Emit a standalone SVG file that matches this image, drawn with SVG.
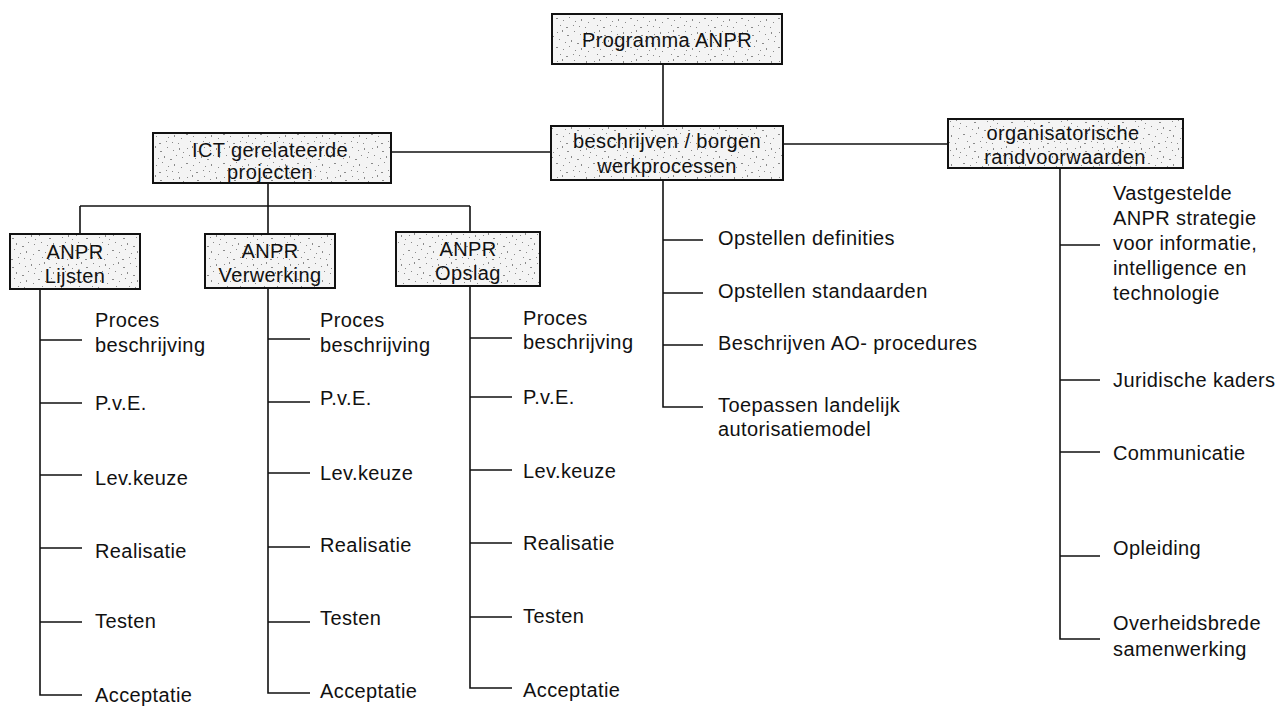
<svg xmlns="http://www.w3.org/2000/svg" width="1286" height="706" viewBox="0 0 1286 706">
<style>
  .box { fill: url(#speckle); stroke: #111; stroke-width: 2; }
  .t { font-family: "Liberation Sans", Arial, sans-serif; font-size: 20px; fill: #111; letter-spacing: 0.4px; }
  .c { text-anchor: middle; }
  .ln { stroke: #111; stroke-width: 1.6; fill: none; }
</style>
<defs>
  <pattern id="speckle" patternUnits="userSpaceOnUse" width="37" height="29">
    <rect width="37" height="29" fill="#f4f4f4"/>
    <g fill="#8a8a8a">
      <rect x="2" y="3" width="1" height="1"/><rect x="7" y="1" width="1" height="2"/>
      <rect x="12" y="6" width="2" height="1"/><rect x="19" y="2" width="1" height="1"/>
      <rect x="25" y="5" width="1" height="1"/><rect x="31" y="3" width="1" height="2"/>
      <rect x="4" y="10" width="1" height="1"/><rect x="10" y="13" width="1" height="1"/>
      <rect x="16" y="11" width="1" height="2"/><rect x="22" y="14" width="2" height="1"/>
      <rect x="28" y="10" width="1" height="1"/><rect x="34" y="12" width="1" height="1"/>
      <rect x="1" y="18" width="2" height="1"/><rect x="8" y="20" width="1" height="1"/>
      <rect x="14" y="17" width="1" height="1"/><rect x="20" y="21" width="1" height="1"/>
      <rect x="26" y="19" width="1" height="2"/><rect x="33" y="22" width="1" height="1"/>
      <rect x="5" y="25" width="1" height="1"/><rect x="11" y="27" width="2" height="1"/>
      <rect x="18" y="25" width="1" height="1"/><rect x="24" y="26" width="1" height="1"/>
      <rect x="30" y="27" width="1" height="1"/><rect x="35" y="7" width="1" height="1"/>
    </g>
  </pattern>
</defs>
<rect width="1286" height="706" fill="#ffffff"/>

<g id="connectors">
  <line class="ln" x1="663" y1="64" x2="663" y2="126"/>
  <line class="ln" x1="391" y1="152" x2="551" y2="152"/>
  <line class="ln" x1="783" y1="144" x2="948" y2="144"/>
  <line class="ln" x1="268" y1="183" x2="268" y2="234"/>
  <line class="ln" x1="80" y1="206" x2="470" y2="206"/>
  <line class="ln" x1="80" y1="206" x2="80" y2="234"/>
  <line class="ln" x1="470" y1="206" x2="470" y2="232"/>
  <!-- Lijsten -->
  <path class="ln" d="M40 289 V695 H82 M40 340 H82 M40 403 H82 M40 475 H82 M40 548 H82 M40 622 H82"/>
  <!-- Verwerking -->
  <path class="ln" d="M268 288 V693 H310 M268 339 H310 M268 402 H310 M268 473 H310 M268 547 H310 M268 622 H310"/>
  <!-- Opslag -->
  <path class="ln" d="M470 286 V688 H512 M470 338 H512 M470 397 H512 M470 470 H512 M470 543 H512 M470 617 H512"/>
  <!-- beschrijven -->
  <path class="ln" d="M663 180 V407 H703 M663 240 H703 M663 293 H703 M663 345 H703"/>
  <!-- organisatorische -->
  <path class="ln" d="M1060 168 V639 H1100 M1060 245 H1100 M1060 380 H1100 M1060 452 H1100 M1060 556 H1100"/>
</g>

<g id="programma">
  <rect class="box" x="552" y="14" width="230" height="50"/>
  <text class="t c" x="667" y="47">Programma ANPR</text>
</g>
<g id="beschrijven">
  <rect class="box" x="551" y="126" width="232" height="54"/>
  <text class="t c" x="667" y="148">beschrijven / borgen</text>
  <text class="t c" x="667" y="173">werkprocessen</text>
</g>
<g id="ict">
  <rect class="box" x="153" y="133" width="238" height="50"/>
  <text class="t c" x="270" y="157">ICT gerelateerde</text>
  <text class="t c" x="270" y="179">projecten</text>
</g>
<g id="organisatorisch">
  <rect class="box" x="948" y="119" width="235" height="49"/>
  <text class="t c" x="1063" y="140">organisatorische</text>
  <text class="t c" x="1065" y="164">randvoorwaarden</text>
</g>
<g id="lijsten">
  <rect class="box" x="10" y="234" width="130" height="55"/>
  <text class="t c" x="75" y="259">ANPR</text>
  <text class="t c" x="75" y="283">Lijsten</text>
</g>
<g id="verwerking">
  <rect class="box" x="205" y="234" width="130" height="54"/>
  <text class="t c" x="270" y="258">ANPR</text>
  <text class="t c" x="270" y="282">Verwerking</text>
</g>
<g id="opslag">
  <rect class="box" x="396" y="232" width="144" height="54"/>
  <text class="t c" x="468" y="256">ANPR</text>
  <text class="t c" x="468" y="280">Opslag</text>
</g>

<g id="lijsten-items">
  <text class="t" x="95" y="327">Proces</text>
  <text class="t" x="95" y="352">beschrijving</text>
  <text class="t" x="95" y="410">P.v.E.</text>
  <text class="t" x="95" y="485">Lev.keuze</text>
  <text class="t" x="95" y="558">Realisatie</text>
  <text class="t" x="95" y="628">Testen</text>
  <text class="t" x="95" y="702">Acceptatie</text>
</g>
<g id="verwerking-items">
  <text class="t" x="320" y="327">Proces</text>
  <text class="t" x="320" y="352">beschrijving</text>
  <text class="t" x="320" y="405">P.v.E.</text>
  <text class="t" x="320" y="480">Lev.keuze</text>
  <text class="t" x="320" y="552">Realisatie</text>
  <text class="t" x="320" y="625">Testen</text>
  <text class="t" x="320" y="698">Acceptatie</text>
</g>
<g id="opslag-items">
  <text class="t" x="523" y="325">Proces</text>
  <text class="t" x="523" y="349">beschrijving</text>
  <text class="t" x="523" y="404">P.v.E.</text>
  <text class="t" x="523" y="478">Lev.keuze</text>
  <text class="t" x="523" y="550">Realisatie</text>
  <text class="t" x="523" y="623">Testen</text>
  <text class="t" x="523" y="697">Acceptatie</text>
</g>
<g id="beschrijven-items">
  <text class="t" x="718" y="245">Opstellen definities</text>
  <text class="t" x="718" y="298">Opstellen standaarden</text>
  <text class="t" x="718" y="350">Beschrijven AO- procedures</text>
  <text class="t" x="718" y="412">Toepassen landelijk</text>
  <text class="t" x="718" y="436">autorisatiemodel</text>
</g>
<g id="organisatorisch-items">
  <text class="t" x="1113" y="200">Vastgestelde</text>
  <text class="t" x="1113" y="225">ANPR strategie</text>
  <text class="t" x="1113" y="250">voor informatie,</text>
  <text class="t" x="1113" y="275">intelligence en</text>
  <text class="t" x="1113" y="300">technologie</text>
  <text class="t" x="1113" y="387">Juridische kaders</text>
  <text class="t" x="1113" y="460">Communicatie</text>
  <text class="t" x="1113" y="555">Opleiding</text>
  <text class="t" x="1113" y="630">Overheidsbrede</text>
  <text class="t" x="1113" y="656">samenwerking</text>
</g>
</svg>
